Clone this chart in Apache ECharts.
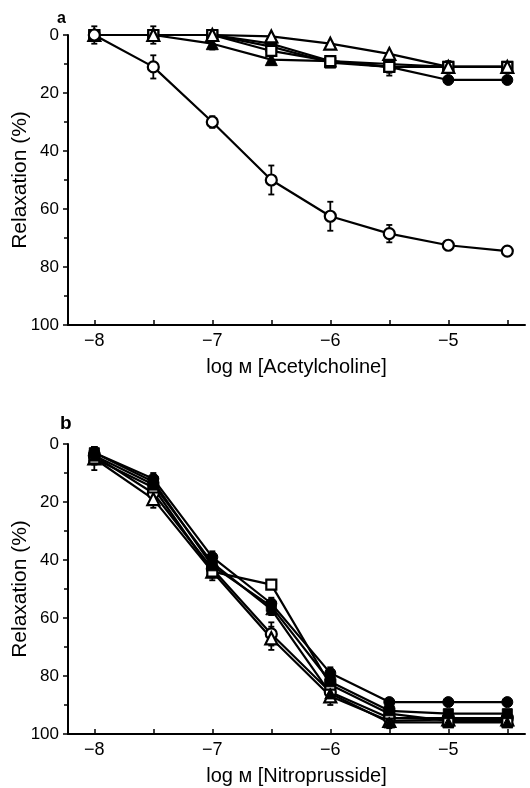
<!DOCTYPE html>
<html>
<head>
<meta charset="utf-8">
<script src="https://cdn.jsdelivr.net/npm/echarts@6/dist/echarts.min.js"></script>
<style>
html,body{margin:0;padding:0;background:#fff;}
#chart{width:530px;height:788px;}
</style>
</head>
<body>
<div id="chart"></div>
<script>
// ---- data ----
const doses = [-8, -7.5, -7, -6.5, -6, -5.5, -5, -4.5];
const xTickValues = [-8, -7.5, -7, -6.5, -6, -5.5, -5, -4.5];
const xLabelValues = [-8, -7, -6, -5];
const yTickLabels = [0, 20, 40, 60, 80, 100];

// Panel a: Acetylcholine
const achOpenCircle      = [0, 11, 30, 50, 62.5, 68.5, 72.5, 74.5];
const achOpenCircleErr   = [0, 4, 2, 5, 5, 3, 0, 0];
const achFilledCircle    = [0, 0, 0, 3, 9, 11, 15.5, 15.5];
const achFilledCircleErr = [0, 0, 0, 0, 0, 3, 0, 0];
const achOpenTriangle    = [0, 0, 0, 0.5, 3, 6.5, 11, 11];
const achOpenTriangleErr = [0, 0, 0, 0, 0, 0, 0, 0];
const achFilledTriangle  = [0, 0, 3, 8.5, 9, 10, 11, 11];
const achFilledTriangleErr = [3, 0, 2, 0, 0, 0, 0, 0];
const achOpenSquare      = [0, 0, 0, 5.5, 9, 11, 11, 11];
const achOpenSquareErr   = [0, 0, 0, 0, 0, 0, 2, 0];
const achFilledSquare    = [0, 0, 0, 4, 9.5, 11, 11, 11];
const achFilledSquareErr = [0, 3, 0, 0, 0, 2, 0, 0];

// Panel b: Nitroprusside
const npOpenCircle       = [4, 17, 43, 65.5, 85.5, 94.5, 94.5, 94.5];
const npOpenCircleErr    = [3, 3, 3, 4, 3, 2, 2, 2];
const npFilledCircle     = [3, 12, 39, 55, 79, 89, 89, 89];
const npFilledCircleErr  = [2, 2, 2, 2, 2, 1, 0, 0];
const npOpenTriangle     = [5, 19, 44, 67, 87, 95.5, 95, 95];
const npOpenTriangleErr  = [4, 3, 3, 4, 3, 2, 1, 1];
const npFilledTriangle   = [4, 14, 41, 57, 86, 96, 96, 96];
const npFilledTriangleErr= [3, 2, 3, 2, 3, 2, 1, 1];
const npOpenSquare       = [5, 15, 44, 48.5, 83, 93, 95.5, 95.5];
const npOpenSquareErr    = [2, 2, 2, 1, 2, 2, 2, 2];
const npFilledSquare     = [3, 13, 42, 56, 82, 92, 93, 93];
const npFilledSquareErr  = [2, 2, 2, 2, 2, 1, 1, 1];

// ---- build ----
const FONT = 'Liberation Sans, Arial, Helvetica, sans-serif';
const chart = echarts.init(document.getElementById('chart'), null, {renderer: 'canvas'});

function pts(vals) { return doses.map((d, i) => [d, vals[i]]); }
function errPts(vals, errs) { return doses.map((d, i) => [d, vals[i], errs[i]]); }

function errSeries(vals, errs, gi) {
  return {
    type: 'custom', xAxisIndex: gi, yAxisIndex: gi, z: 1, silent: true,
    encode: {x: 0, y: 1},
    data: errPts(vals, errs),
    renderItem: function (params, api) {
      const x = api.value(0), y = api.value(1), e = api.value(2);
      if (!e) return null;
      const t = api.coord([x, y - e]);
      const b = api.coord([x, y + e]);
      const s = {stroke: '#000', lineWidth: 1.8};
      return {type: 'group', children: [
        {type: 'line', shape: {x1: t[0], y1: t[1], x2: b[0], y2: b[1]}, style: s},
        {type: 'line', shape: {x1: t[0] - 3, y1: t[1], x2: t[0] + 3, y2: t[1]}, style: s},
        {type: 'line', shape: {x1: b[0] - 3, y1: b[1], x2: b[0] + 3, y2: b[1]}, style: s}
      ]};
    }
  };
}

function lineSeries(vals, gi, symbol, filled, size) {
  return {
    type: 'line', xAxisIndex: gi, yAxisIndex: gi, z: 3,
    data: pts(vals), symbol: symbol, symbolSize: size, showSymbol: true,
    lineStyle: {color: '#000', width: 2.2},
    itemStyle: filled ? {color: '#000', borderColor: '#000', borderWidth: 1}
                      : {color: '#fff', borderColor: '#000', borderWidth: 2.2},
    emphasis: {disabled: true}
  };
}

function xAxis(gi, name) {
  return {
    type: 'value', gridIndex: gi, min: -8.223, max: -4.35,
    axisLine: {show: true, onZero: false, lineStyle: {color: '#000', width: 2}},
    axisTick: {show: true, inside: true, length: 5, customValues: xTickValues, lineStyle: {color: '#000', width: 1.5}},
    axisLabel: {customValues: xLabelValues, color: '#000', fontSize: 18, fontFamily: FONT, margin: 7,
      formatter: v => (v < 0 ? '\u2212' : '') + Math.abs(v)},
    splitLine: {show: false},
    name: name, nameLocation: 'middle', nameGap: 32, nameMoveOverlap: false,
    nameTextStyle: {color: '#000', fontSize: 20, fontFamily: FONT}
  };
}

function yAxis(gi) {
  return {
    type: 'value', gridIndex: gi, inverse: true, min: 0, max: 100, interval: 20,
    axisLine: {show: true, lineStyle: {color: '#000', width: 2}},
    axisTick: {show: true, length: 5, lineStyle: {color: '#000', width: 1.5}},
    minorTick: {show: true, splitNumber: 2, length: 4, lineStyle: {color: '#000', width: 1.5}},
    axisLabel: {color: '#000', fontSize: 17, fontFamily: FONT, margin: 9,
      formatter: v => (yTickLabels.indexOf(v) >= 0 ? String(v) : '')},
    splitLine: {show: false},
    name: 'Relaxation (%)', nameLocation: 'middle', nameGap: 37, nameMoveOverlap: false,
    nameTextStyle: {color: '#000', fontSize: 21, fontFamily: FONT}
  };
}

const achSets = [
  [achFilledSquare, achFilledSquareErr, 'rect', true, 11],
  [achFilledCircle, achFilledCircleErr, 'circle', true, 11],
  [achFilledTriangle, achFilledTriangleErr, 'triangle', true, 12],
  [achOpenSquare, achOpenSquareErr, 'rect', false, 10],
  [achOpenTriangle, achOpenTriangleErr, 'triangle', false, 12],
  [achOpenCircle, achOpenCircleErr, 'circle', false, 11]
];
const npSets = [
  [npOpenCircle, npOpenCircleErr, 'circle', false, 11],
  [npOpenTriangle, npOpenTriangleErr, 'triangle', false, 12],
  [npOpenSquare, npOpenSquareErr, 'rect', false, 10],
  [npFilledSquare, npFilledSquareErr, 'rect', true, 10],
  [npFilledTriangle, npFilledTriangleErr, 'triangle', true, 11],
  [npFilledCircle, npFilledCircleErr, 'circle', true, 11]
];

const series = [];
achSets.forEach(s => { series.push(errSeries(s[0], s[1], 0)); });
achSets.forEach(s => { series.push(lineSeries(s[0], 0, s[2], s[3], s[4])); });
npSets.forEach(s => { series.push(errSeries(s[0], s[1], 1)); });
npSets.forEach(s => { series.push(lineSeries(s[0], 1, s[2], s[3], s[4])); });

chart.setOption({
  animation: false,
  backgroundColor: '#fff',
  grid: [
    {left: 68, top: 35, width: 457, height: 290, containLabel: false, outerBoundsMode: 'none'},
    {left: 68, top: 444, width: 457, height: 290, containLabel: false, outerBoundsMode: 'none'}
  ],
  xAxis: [xAxis(0, 'log \u043C [Acetylcholine]'), xAxis(1, 'log \u043C [Nitroprusside]')],
  yAxis: [yAxis(0), yAxis(1)],
  graphic: [
    {type: 'text', left: 57, top: 11, style: {text: 'a', fontSize: 16, fontWeight: 'bold', fontFamily: FONT, fill: '#000'}},
    {type: 'text', left: 60, top: 414, style: {text: 'b', fontSize: 19, fontWeight: 'bold', fontFamily: FONT, fill: '#000'}}
  ],
  series: series
});
</script>
</body>
</html>
